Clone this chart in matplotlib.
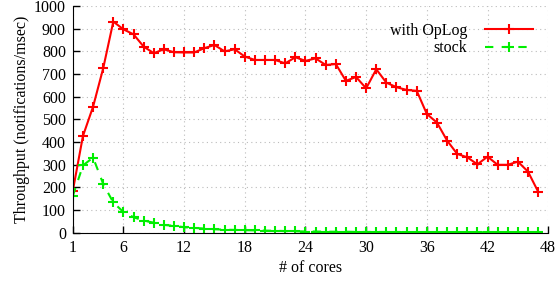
import numpy as np
import matplotlib
matplotlib.use("Agg")
import matplotlib.pyplot as plt

# number of cores
cores = np.arange(1, 48)

# throughput with OpLog
oplog = [186, 427, 556, 725, 931, 897, 875, 821, 792, 809,
         796, 795, 795, 814, 828, 800, 809, 777, 762, 762,
         762, 747, 774, 758, 769, 740, 744, 670, 687, 637,
         721, 662, 642, 630, 626, 524, 486, 407, 348, 333,
         302, 336, 300, 300, 314, 270, 182]

# throughput stock kernel
stock = [163, 297, 332, 216, 134, 92, 69, 54, 45, 35,
         31, 25, 22, 19, 16, 14, 13, 12, 11, 10,
         9, 8, 7, 6, 6, 5, 5, 5, 4, 4,
         4, 4, 4, 3, 3, 3, 3, 3, 3, 3,
         3, 3, 3, 3, 3, 3, 3]

xticks = [1, 6, 12, 18, 24, 30, 36, 42, 48]
yticks = list(range(0, 1001, 100))

plt.rcParams['font.family'] = ['Liberation Serif', 'DejaVu Serif']
plt.rcParams['font.size'] = 11.5

fig = plt.figure(figsize=(5.56, 2.84), dpi=100)
ax = fig.add_axes([0.131, 0.180, 0.855, 0.799])

ax.plot(cores, oplog, color='#ff0000', lw=1.5, marker='+', ms=7, mew=1.5,
        label='with OpLog')
ax.plot(cores, stock, color='#00ee00', lw=1.5, marker='+', ms=7, mew=1.5,
        dashes=(4, 4), label='stock')

ax.set_xlim(1, 48)
ax.set_ylim(0, 1000)
ax.set_xticks(xticks)
ax.set_yticks(yticks)
ax.tick_params(direction='in', length=5, width=1, pad=5)
ax.grid(True, linestyle=(0, (1, 3)), color='#bbbbbb', lw=0.8)
ax.spines['top'].set_visible(False)
ax.spines['right'].set_visible(False)

ax.set_xlabel('# of cores', labelpad=3)
ax.set_ylabel('Throughput (notifications/msec)', labelpad=3)

ax.legend(loc='upper right', bbox_to_anchor=(0.998, 0.99), frameon=False,
          markerfirst=False, handlelength=3.0, labelspacing=0.1,
          handletextpad=1.1)

fig.savefig('out.png', dpi=100)
